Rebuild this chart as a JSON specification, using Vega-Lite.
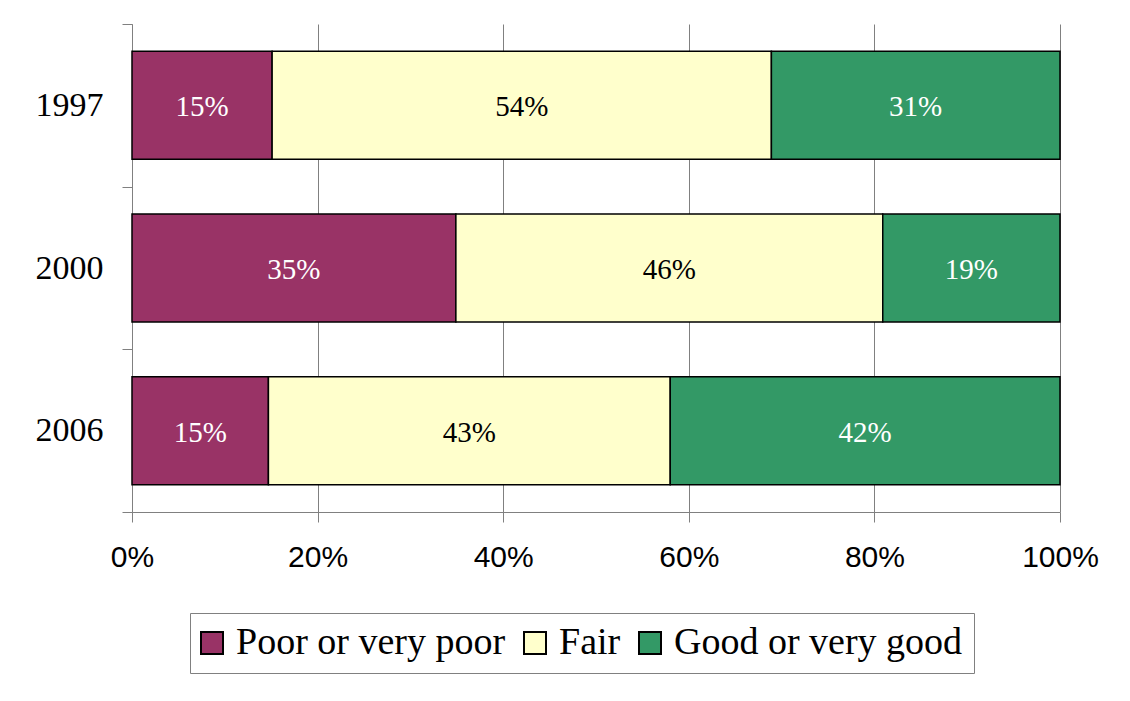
{
  "$schema": "https://vega.github.io/schema/vega-lite/v6.json",
  "autosize": {"type": "none"},
  "padding": {"left": 132, "top": 24, "right": 70, "bottom": 189},
  "width": 928,
  "height": 488,
  "background": "white",
  "config": {"view": {"stroke": null}},
  "data": {
    "values": [
      {"year": "1997", "cat": "Poor or very poor", "rank": 1, "v": 0.151},
      {"year": "1997", "cat": "Fair", "rank": 2, "v": 0.538},
      {"year": "1997", "cat": "Good or very good", "rank": 3, "v": 0.311},
      {"year": "2000", "cat": "Poor or very poor", "rank": 1, "v": 0.349},
      {"year": "2000", "cat": "Fair", "rank": 2, "v": 0.460},
      {"year": "2000", "cat": "Good or very good", "rank": 3, "v": 0.191},
      {"year": "2006", "cat": "Poor or very poor", "rank": 1, "v": 0.147},
      {"year": "2006", "cat": "Fair", "rank": 2, "v": 0.433},
      {"year": "2006", "cat": "Good or very good", "rank": 3, "v": 0.420}
    ]
  },
  "encoding": {
    "y": {
      "field": "year", "type": "nominal",
      "scale": {"paddingInner": 0, "paddingOuter": 0},
      "axis": {
        "title": null, "tickBand": "extent", "tickSize": 10, "tickColor": "#808080",
        "domainColor": "#808080", "labelFont": "Liberation Serif", "labelFontSize": 34,
        "labelColor": "black", "labelPadding": 19, "grid": false
      }
    }
  },
  "layer": [
    {
      "mark": {"type": "bar", "stroke": "black", "strokeWidth": 1.5, "height": {"band": 0.664}},
      "encoding": {
        "x": {
          "field": "v", "type": "quantitative", "stack": "zero",
          "scale": {"domain": [0, 1]},
          "axis": {
            "title": null, "format": ".0%", "values": [0, 0.2, 0.4, 0.6, 0.8, 1],
            "grid": true, "gridColor": "#808080", "gridWidth": 1,
            "tickSize": 10, "tickColor": "#808080", "domainColor": "#808080",
            "labelFont": "Liberation Sans", "labelFontSize": 30, "labelColor": "black",
            "labelPadding": 20, "labelFlush": false
          }
        },
        "order": {"field": "rank", "type": "quantitative"},
        "color": {
          "field": "cat", "type": "nominal",
          "scale": {
            "domain": ["Poor or very poor", "Fair", "Good or very good"],
            "range": ["#993366", "#FFFFCC", "#339966"]
          },
          "legend": {
            "title": null, "orient": "none", "direction": "horizontal", "columns": 3,
            "legendX": 58, "legendY": 589,
            "strokeColor": "#808080", "padding": 11, "fillColor": "white",
            "symbolType": "square", "symbolSize": 484, "symbolStrokeColor": "black",
            "symbolStrokeWidth": 2, "symbolOpacity": 1, "symbolOffset": -8,
            "labelFont": "Liberation Serif", "labelFontSize": 38, "labelColor": "black",
            "labelOffset": 5, "columnPadding": 14, "labelLimit": 0
          }
        }
      }
    },
    {
      "mark": {"type": "text", "font": "Liberation Serif", "fontSize": 29, "baseline": "middle", "align": "center", "dy": 2},
      "encoding": {
        "x": {"field": "v", "type": "quantitative", "stack": "zero", "bandPosition": 0.5},
        "order": {"field": "rank", "type": "quantitative"},
        "detail": {"field": "cat", "type": "nominal"},
        "text": {"field": "v", "type": "quantitative", "format": ".0%"},
        "color": {
          "condition": {"test": "datum.cat === 'Fair'", "value": "black"},
          "value": "white"
        }
      }
    }
  ]
}
